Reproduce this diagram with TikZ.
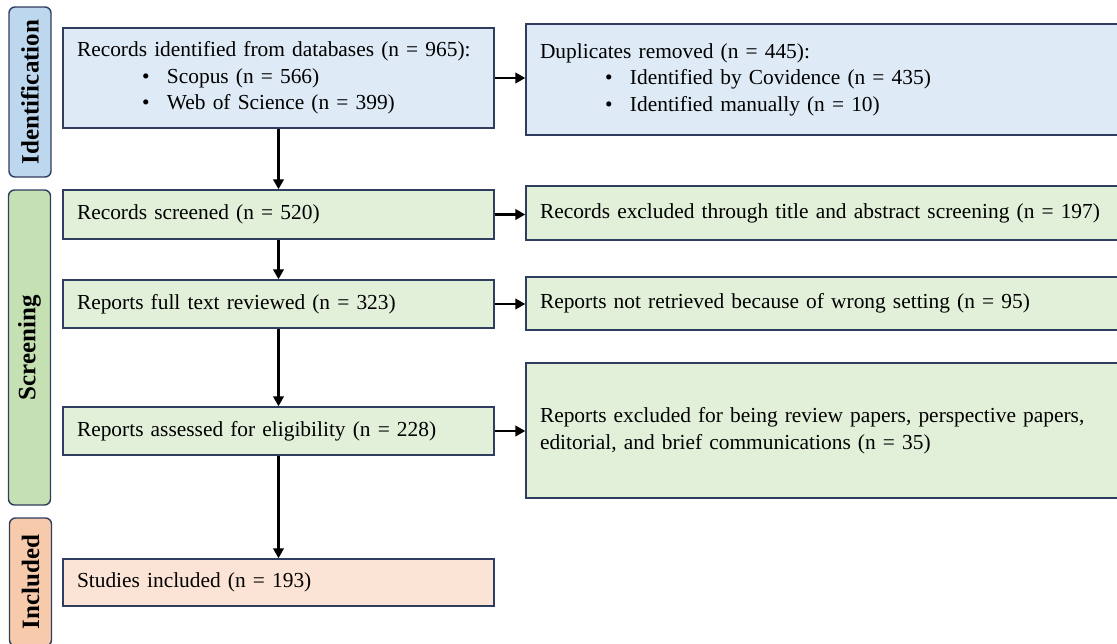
\documentclass[tikz,border=0pt]{standalone}
\usepackage{fontspec}
\setmainfont{Liberation Serif}
\usepackage{tikz}
\usetikzlibrary{arrows.meta, positioning, calc}
\definecolor{boxline}{HTML}{2F3D5E}
\definecolor{idfill}{HTML}{DEEAF6}
\definecolor{idlabel}{HTML}{BDD7EE}
\definecolor{scrfill}{HTML}{E2EFD9}
\definecolor{scrlabel}{HTML}{C5E0B3}
\definecolor{incfill}{HTML}{FBE4D5}
\definecolor{inclabel}{HTML}{F7CAAC}
\newcommand{\bodyfont}{\fontsize{21.4}{26.5}\selectfont}
\newcommand{\srcitem}[1]{\hspace*{65pt}\textbullet\hspace{17.5pt}#1}
\tikzstyle{stepbox} = [draw=boxline, line width=1.4pt, inner xsep=14pt, inner ysep=0pt, align=left, font=\bodyfont]
\tikzstyle{leftbox} = [stepbox, minimum width=431pt, text width=403pt]
\tikzstyle{rightbox} = [stepbox, minimum width=600pt, text width=572pt]
\tikzstyle{phase} = [draw=boxline, line width=1.4pt, rounded corners=6pt, rotate=90, minimum height=42pt, inner sep=0pt, font=\fontsize{25}{30}\selectfont\bfseries]
\tikzstyle{flow} = [-{Triangle[length=10pt, width=10.5pt]}, line width=2.4pt, black]

\begin{document}
\begin{tikzpicture}[x=1pt, y=-1pt]
    \useasboundingbox (0,0) rectangle (1117,643);

    % Phase labels
    \node[phase, fill=idlabel, minimum width=170pt] (pid) at (30,92) {Identification};
    \node[phase, fill=scrlabel, minimum width=315pt] (pscr) at (29.5,347.5) {Screening};
    \node[phase, fill=inclabel, minimum width=128pt] (pinc) at (30.5,582) {Included};

    % Main flow (left column)
    \node[leftbox, fill=idfill, minimum height=100pt] (rec) at (278.5,78)
        {Records identified from databases (n = 965):\\
         \srcitem{Scopus (n = 566)}\\
         \srcitem{Web of Science (n = 399)}};
    \node[leftbox, fill=scrfill, minimum height=49pt] (scr) at (278.5,214.5) {Records screened (n = 520)};
    \node[leftbox, fill=scrfill, minimum height=48pt] (full) at (278.5,304) {Reports full text reviewed (n = 323)};
    \node[leftbox, fill=scrfill, minimum height=48pt] (elig) at (278.5,431) {Reports assessed for eligibility (n = 228)};
    \node[leftbox, fill=incfill, minimum height=47pt] (inc) at (278.5,582.5) {Studies included (n = 193)};

    % Removed / excluded (right column)
    \node[rightbox, fill=idfill, minimum height=111pt] (dup) at (826,79.5)
        {Duplicates removed (n = 445):\\
         \srcitem{Identified by Covidence (n = 435)}\\
         \srcitem{Identified manually (n = 10)}};
    \node[rightbox, fill=scrfill, minimum height=54pt] (exta) at (826,213) {Records excluded through title and abstract screening (n = 197)};
    \node[rightbox, fill=scrfill, minimum height=53pt] (exfull) at (826,303.5) {Reports not retrieved because of wrong setting (n = 95)};
    \node[rightbox, fill=scrfill, minimum height=135pt] (exelig) at (826,430.5)
        {Reports excluded for being review papers, perspective papers,\\
         editorial, and brief communications (n = 35)};

    % Vertical arrows
    \draw[flow] (rec) -- (scr);
    \draw[flow] (scr) -- (full);
    \draw[flow] (full) -- (elig);
    \draw[flow] (elig) -- (inc);

    % Horizontal arrows
    \draw[flow] (rec.east) -- (rec.east -| dup.west);
    \draw[flow] (scr.east) -- (scr.east -| exta.west);
    \draw[flow] (full.east) -- (full.east -| exfull.west);
    \draw[flow] (elig.east) -- (elig.east -| exelig.west);
\end{tikzpicture}
\end{document}
